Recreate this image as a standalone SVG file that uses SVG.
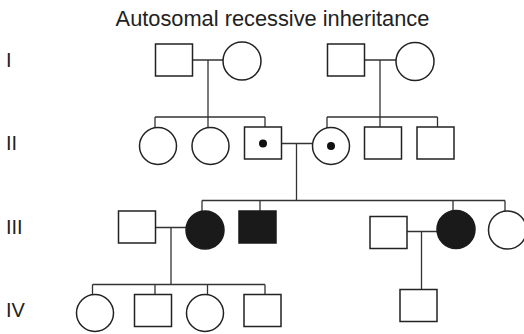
<svg xmlns="http://www.w3.org/2000/svg" width="524" height="334" viewBox="0 0 524 334">
<style>
.s{fill:#fff;stroke:#222;stroke-width:1.5}
.f{fill:#1a1a1a;stroke:#1a1a1a;stroke-width:1.5}
.d{fill:#111}
.l{fill:none;stroke:#333;stroke-width:1.3}
.t{font-family:"Liberation Sans",Arial,sans-serif;fill:#222}
</style>
<rect width="524" height="334" fill="#fff"/>
<text class="t" x="272.5" y="25.5" font-size="21.8" text-anchor="middle">Autosomal recessive inheritance</text>
<g class="t" font-size="20">
<text x="6" y="67">I</text>
<text x="6" y="150">II</text>
<text x="6" y="234">III</text>
<text x="6" y="317">IV</text>
</g>
<g id="connectors" class="l">
<path d="M192.5 60H223M208 60V117M155 117H265M155 117V127.5M208 117V127.5M265 117V127"/>
<path d="M364.5 60H396M380 60V117M327 117H437.5M327 117V128M380 117V127M437.5 117V127"/>
<path d="M281.5 143.5H312.5M296.5 143.5V200.5M202 200.5H505M202 200.5V211.5M260 200.5V211M453 200.5V211M505 200.5V211.5"/>
<path d="M155.5 227.5H186M171 227.5V284.5M92.5 284.5H265M92.5 284.5V295M155 284.5V294.5M207.5 284.5V295M265 284.5V294.5"/>
<path d="M407 231.5H437M421.5 231.5V289.5"/>
</g>
<g id="I-1"><rect class="s" x="155.5" y="44" width="37" height="32"/></g>
<g id="I-2"><circle class="s" cx="242" cy="61" r="19"/></g>
<g id="I-3"><rect class="s" x="327.5" y="44" width="37" height="32"/></g>
<g id="I-4"><circle class="s" cx="415" cy="61.5" r="19"/></g>
<g id="II-1"><circle class="s" cx="158" cy="146" r="18.5"/></g>
<g id="II-2"><circle class="s" cx="210.5" cy="146" r="18.5"/></g>
<g id="II-3"><rect class="s" x="244.5" y="127" width="37" height="32"/><circle class="d" cx="263" cy="143.5" r="4"/></g>
<g id="II-4"><circle class="s" cx="331" cy="146" r="18.5"/><circle class="d" cx="331" cy="146" r="4"/></g>
<g id="II-5"><rect class="s" x="364.5" y="127" width="37" height="32"/></g>
<g id="II-6"><rect class="s" x="417" y="127" width="37" height="32"/></g>
<g id="III-1"><rect class="s" x="118.5" y="211" width="37" height="32"/></g>
<g id="III-2"><circle class="f" cx="205" cy="230" r="19"/></g>
<g id="III-3"><rect class="f" x="239" y="211" width="37" height="32"/></g>
<g id="III-4"><rect class="s" x="370" y="216.5" width="37" height="32"/></g>
<g id="III-5"><circle class="f" cx="456" cy="229.5" r="19"/></g>
<g id="III-6"><circle class="s" cx="507.5" cy="230" r="19"/></g>
<g id="IV-1"><circle class="s" cx="95" cy="313" r="18.5"/></g>
<g id="IV-2"><rect class="s" x="134.5" y="294.5" width="37" height="32"/></g>
<g id="IV-3"><circle class="s" cx="205" cy="313" r="18.5"/></g>
<g id="IV-4"><rect class="s" x="244" y="294.5" width="37" height="32"/></g>
<g id="IV-5"><rect class="s" x="400" y="289.5" width="37" height="32"/></g>
</svg>
